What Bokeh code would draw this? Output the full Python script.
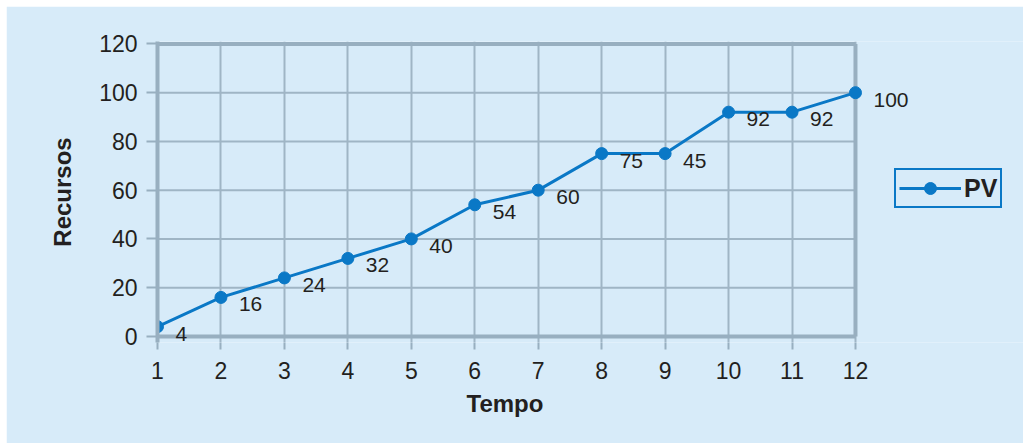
from bokeh.plotting import figure
from bokeh.models import (Range1d, FixedTicker, ColumnDataSource, LabelSet,
                          Legend, LegendItem, Spacer, Title, LinearAxis)
from bokeh.layouts import row, column
from bokeh.core.properties import value
from bokeh.embed import file_html
from bokeh.resources import INLINE

# Planned value (PV) curve over the project time periods
tempo = [1, 2, 3, 4, 5, 6, 7, 8, 9, 10, 11, 12]
recursos = [4, 16, 24, 32, 40, 54, 60, 75, 75, 92, 92, 100]
rotulos = ["4", "16", "24", "32", "40", "54", "60", "75", "45", "92", "92", "100"]
y_ticks = [0, 20, 40, 60, 80, 100, 120]

BG = "#d7ebf9"
GRID = "#9fb5c5"
AXIS = "#98afc0"
BLUE = "#0a78c6"
INK = "#231f20"
FONT = "Liberation Sans"

src = ColumnDataSource(dict(x=tempo, y=recursos, txt=rotulos))

# the frame runs on past the last period so the value labels and the
# legend on the right have room; the chart box is drawn from 1 to 12
p = figure(width=1017, height=437,
           x_range=Range1d(1, 14.648), y_range=Range1d(-2.5, 121),
           output_backend="svg", toolbar_location=None,
           background_fill_color=BG, border_fill_color=BG,
           min_border_left=151, min_border_right=0,
           min_border_top=35, min_border_bottom=101)
p.outline_line_color = None

for ax in (p.xaxis[0], p.yaxis[0]):
    ax.major_tick_line_color = AXIS
    ax.major_tick_line_width = 2
    ax.major_tick_in = 0
    ax.minor_tick_line_color = None
    ax.major_label_text_font = FONT
    ax.major_label_text_font_size = "23px"
    ax.major_label_text_color = INK
    ax.axis_label_text_font = FONT
    ax.axis_label_text_font_size = "24px"
    ax.axis_label_text_font_style = "bold"
    ax.axis_label_text_color = INK

p.yaxis.axis_line_color = AXIS
p.yaxis.axis_line_width = 4
p.xaxis.axis_line_color = None

p.xaxis.ticker = FixedTicker(ticks=tempo)
p.yaxis.ticker = FixedTicker(ticks=y_ticks)
p.xaxis.major_tick_out = 7
p.yaxis.major_tick_out = 11
p.xaxis.major_label_standoff = 12
p.yaxis.major_label_standoff = 9
p.yaxis.axis_label = "Recursos"
p.yaxis.axis_label_standoff = 20

# blank gap between the period numbers and the "Tempo" caption
gap = LinearAxis(ticker=FixedTicker(ticks=[]), major_tick_out=14,
                 major_tick_in=0, major_tick_line_color=None,
                 minor_tick_line_color=None, axis_line_color=None,
                 major_label_standoff=0)
p.add_layout(gap, "below")

p.add_layout(Title(text="Tempo", align="left", offset=309, standoff=16,
                   vertical_align="top",
                   text_font=FONT, text_font_size="24px",
                   text_font_style="bold", text_color=INK), "below")

# vertical grid at each period
p.xgrid.ticker = FixedTicker(ticks=tempo)
p.xgrid.grid_line_color = GRID
p.xgrid.grid_line_width = 2
p.ygrid.grid_line_color = None

# horizontal grid and chart box, limited to the period span
x0, x1 = tempo[0], tempo[-1]
inner = y_ticks[1:-1]
p.segment(x0=[x0] * len(inner), x1=[x1] * len(inner), y0=inner, y1=inner,
          line_color=GRID, line_width=2)
p.segment(x0=[x0, x0, x1], x1=[x1, x1, x1],
          y0=[y_ticks[0], y_ticks[-1], y_ticks[0]],
          y1=[y_ticks[0], y_ticks[-1], y_ticks[-1]],
          line_color=AXIS, line_width=4)

line_r = p.line("x", "y", source=src, line_color=BLUE, line_width=3)
dot_r = p.scatter("x", "y", source=src, size=12, fill_color=BLUE,
                  line_color=BLUE)

labels = LabelSet(x="x", y="y", text="txt", source=src,
                  x_offset=18, y_offset=-7,
                  text_font=value(FONT), text_font_size="21px",
                  text_color=INK, text_align="left", text_baseline="middle")
p.add_layout(labels)

legend = Legend(items=[LegendItem(label="PV", renderers=[line_r, dot_r])],
                location=(737, 134), orientation="vertical",
                glyph_width=62, glyph_height=30, label_standoff=3,
                padding=3, spacing=0, margin=0,
                label_text_font=FONT, label_text_font_size="25px",
                label_text_font_style="bold", label_text_color=INK,
                border_line_color=BLUE, border_line_width=2,
                border_line_alpha=1,
                background_fill_color=BG, background_fill_alpha=1)
p.add_layout(legend)

layout = row(Spacer(width=6), column(Spacer(height=6), p))

open("out.html", "w").write(file_html(layout, INLINE))
